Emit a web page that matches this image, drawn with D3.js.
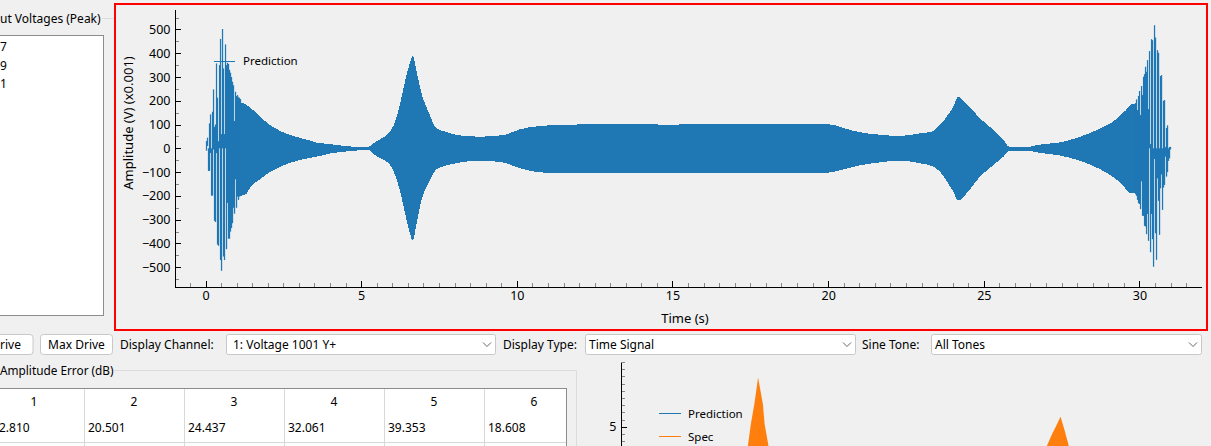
<!DOCTYPE html>
<html>
<head>
<meta charset="utf-8">
<style>
  html, body { margin: 0; padding: 0; background: #f0f0f0; overflow: hidden; }
  svg { display: block; }
  text { font-family: "Noto Sans", sans-serif; font-size: 12px; fill: #000; }
  .axis path, .axis line { shape-rendering: crispEdges; }
  .axis text { font-size: 12.5px; }
  .legend { font-size: 11.5px; }
  .axis-title { font-size: 13px; }
</style>
</head>
<body>
<div id="chart"></div>
<script src="https://cdn.jsdelivr.net/npm/d3@7"></script>
<script>
'use strict';

// main plot: envelope of the signal where it reads as solid
var envTime = [1.11, 1.32, 1.43, 1.75, 2.07, 2.71, 3.36, 3.57, 4.0, 4.54, 5.0, 5.23, 5.39, 5.66, 5.92, 6.09, 6.25, 6.47, 6.58, 6.66, 6.78, 6.94, 7.16, 7.42, 7.69, 8.07, 8.82, 9.57, 10.1, 10.74, 11.39, 12.5, 15, 17, 20, 20.5, 21, 21.6, 22.31, 22.95, 23.33, 23.59, 23.92, 24.03, 24.17, 24.45, 24.88, 25.31, 25.63, 25.82, 26.49, 26.7, 27.45, 28.1, 28.74, 29.28, 29.38, 29.57, 29.7, 29.875];
var envUpper = [195, 182, 172, 133, 98, 56, 33, 24, 18, 9, 6, 7, 21, 42, 70, 112, 189, 315, 364, 389, 322, 231, 154, 84, 71, 56, 49, 56, 80, 94, 98, 101, 100, 102, 102, 85, 68, 58, 52, 63, 70, 98, 154, 178, 217, 186, 126, 77, 35, 7, 7, 14, 25, 49, 84, 126, 140, 161, 182, 189];
var envLower = [-200, -190, -165, -130, -100, -61, -40, -35, -22, -13, -8, -7, -24, -45, -69, -112, -182, -308, -364, -389, -315, -217, -147, -88, -74, -62, -52, -60, -84, -101, -104, -104, -103, -104, -102, -88, -72, -60, -52, -63, -74, -98, -161, -185, -220, -189, -119, -70, -35, -11, -11, -17, -30, -53, -88, -133, -144, -172, -189, -190];

// single oscillations at the start of the sweep
var startTime = [0.032, 0.064, 0.096, 0.128, 0.161, 0.193, 0.225, 0.257, 0.289, 0.321, 0.353, 0.385, 0.418, 0.450, 0.482, 0.514, 0.546, 0.578, 0.610, 0.642, 0.675, 0.707, 0.739, 0.771, 0.803, 0.835, 0.867, 0.899, 0.932, 0.964, 0.996, 1.028, 1.060, 1.092, 1.124];
var startHi = [31, 45, 0, 105, 143, 0, 154, 248, 90, 100, 357, 213, 30, 350, 460, 60, 502, 336, 60, 437, 350, 360, 355, 330, 318, 300, 280, 265, 115, 238, 220, 224, 215, 212, 207];
var startLo = [-10, 10, -95, -95, -20, -199, -199, -5, -305, -310, -20, -405, -410, 0, -470, -515, 0, -455, -470, 0, -424, -230, -380, -380, -350, -335, -315, -250, -275, -130, -250, -203, -217, -203, -200];

// single oscillations at the end of the sweep
var endTime = [29.875, 29.907, 29.939, 29.971, 30.003, 30.035, 30.068, 30.100, 30.132, 30.164, 30.196, 30.228, 30.260, 30.292, 30.324, 30.357, 30.389, 30.421, 30.453, 30.485, 30.517, 30.549, 30.581, 30.614, 30.646, 30.678, 30.710, 30.742, 30.774, 30.806, 30.838, 30.871, 30.903, 30.935, 30.967, 30.999];
var endHi = [189, 206, 161, 220, 241, 140, 262, 224, 301, 312, 343, 322, 371, 165, 409, 18, 459, 455, 0, 518, 466, 0, 413, 402, 0, 304, 308, 0, 200, 203, 5, 86, 97, 0, 6, 6];
var endLo = [-193, -200, -217, -231, -234, -256, -139, -284, -284, -326, -329, -361, -276, -389, 0, -437, -276, -382, -498, -45, -357, -469, -126, -221, -364, -168, -110, -259, -165, -154, -35, -119, -100, -53, -42, -5];

var xTicks = [0, 5, 10, 15, 20, 25, 30];
var xMinor = [-0.5, 0.5, 1, 1.5, 2, 2.5, 3, 3.5, 4, 4.5, 5.5, 6, 6.5, 7, 7.5, 8, 8.5, 9, 9.5, 10.5, 11, 11.5, 12, 12.5, 13, 13.5, 14, 14.5, 15.5, 16, 16.5, 17, 17.5, 18, 18.5, 19, 19.5, 20.5, 21, 21.5, 22, 22.5, 23, 23.5, 24, 24.5, 25.5, 26, 26.5, 27, 27.5, 28, 28.5, 29, 29.5, 30.5, 31, 31.5];
var yTicks = [-500, -400, -300, -200, -100, 0, 100, 200, 300, 400, 500];
var yMinor = [-550, -450, -350, -250, -150, -50, 50, 150, 250, 350, 450, 550];

// lower plot, mostly cut off by the window
var specPeak1Time = [6.25, 6.42, 6.62, 6.83, 7.1, 7.2, 7.42];
var specPeak1 = [3.68, 5.2, 6.6, 8.42, 6.6, 5.2, 3.68];
var specPeak2Time = [23.2, 23.5, 23.7, 23.98, 24.2, 24.45];
var specPeak2 = [3.68, 4.5, 5.0, 5.7, 4.8, 3.68];
var lowerYTicks = [5];
var lowerYMinor = [4, 4.5, 5.5, 6, 6.5, 7, 7.5, 8, 8.5, 9, 9.5];

var tableColumns = ['1', '2', '3', '4', '5', '6'];
var tableValues = ['2.810', '20.501', '24.437', '32.061', '39.353', '18.608'];
var peakRows = ['7', '9', '1'];

var blue = '#1f77b4', orange = '#ff7f0e';

var svg = d3.select('#chart').append('svg')
  .attr('width', 1211)
  .attr('height', 446);

function label(str, x, y, anchor) {
  return svg.append('text')
    .attr('x', x)
    .attr('y', y)
    .attr('text-anchor', anchor || 'start')
    .text(str);
}

function box(x, y, w, h, fill, stroke, rx) {
  return svg.append('rect')
    .attr('x', x).attr('y', y)
    .attr('width', w).attr('height', h)
    .attr('rx', rx || 0)
    .attr('fill', fill)
    .attr('stroke', stroke)
    .attr('shape-rendering', rx ? 'auto' : 'crispEdges');
}

function combo(x, w, str, pad) {
  box(x + 0.5, 334.5, w, 20, '#fff', '#c8c8c8', 2);
  label(str, x + pad, 349);
  var cx = x + w - 8;
  svg.append('path')
    .attr('d', 'M' + (cx - 4) + ',342.5L' + cx + ',346.5L' + (cx + 4) + ',342.5')
    .attr('fill', 'none')
    .attr('stroke', '#666');
}

// --- surrounding window ---
label('ut Voltages (Peak)', 0, 23);
svg.append('line').attr('x1', 102).attr('x2', 114).attr('y1', 18.5).attr('y2', 18.5).attr('stroke', '#dcdcdc');
box(-2, 35.5, 105.5, 280, '#fff', '#8c8c8c');
svg.selectAll('.peak-row').data(peakRows).enter().append('text')
  .attr('class', 'peak-row')
  .attr('x', 0)
  .attr('y', function (d, i) { return 51 + i * 18.5; })
  .text(function (d) { return d; });

box(-10, 334.5, 43, 20, '#fff', '#c8c8c8', 3);
label('rive', 0, 349);
box(40.5, 334.5, 72, 20, '#fff', '#c8c8c8', 3);
label('Max Drive', 76.5, 349, 'middle');
label('Display Channel:', 120, 349);
combo(226, 269, '1: Voltage 1001 Y+', 7);
label('Display Type:', 503, 349);
combo(585, 270, 'Time Signal', 4);
label('Sine Tone:', 862, 349);
combo(931, 270, 'All Tones', 4);

// group box and the table
svg.append('path')
  .attr('d', 'M114.5,370.5H576.5V446')
  .attr('fill', 'none')
  .attr('stroke', '#dcdcdc');
label('Amplitude Error (dB)', 0, 375).style('font-size', '11.8px');
box(-2, 388.5, 568.5, 70, '#fff', '#8c8c8c');

var colX = d3.scaleBand().domain(tableColumns).range([-16, 584]);
svg.selectAll('.col-sep').data(tableColumns.slice(0, 5)).enter().append('line')
  .attr('class', 'col-sep')
  .attr('x1', function (d) { return colX(d) + colX.bandwidth() + 0.5; })
  .attr('x2', function (d) { return colX(d) + colX.bandwidth() + 0.5; })
  .attr('y1', 389)
  .attr('y2', 446)
  .attr('stroke', '#d8d8d8');
svg.append('line').attr('x1', 0).attr('x2', 566).attr('y1', 442.5).attr('y2', 442.5).attr('stroke', '#d8d8d8');
svg.selectAll('.col-head').data(tableColumns).enter().append('text')
  .attr('class', 'col-head')
  .attr('x', function (d) { return colX(d) + colX.bandwidth() / 2; })
  .attr('y', 406)
  .attr('text-anchor', 'middle')
  .text(function (d) { return d; });
svg.selectAll('.col-val').data(tableValues).enter().append('text')
  .attr('class', 'col-val')
  .attr('x', function (d, i) { return i === 0 ? -1 : colX(tableColumns[i]) + 4; })
  .attr('y', 432)
  .text(function (d) { return d; });

// --- main plot ---
box(115, 4, 1092, 326, '#f0f0f0', 'none');

var x = d3.scaleLinear().domain([-1, 32]).range([174.4, 1201.7]);
var y = d3.scaleLinear().domain([-579, 586]).range([286, 9]);

var area = d3.area()
  .curve(d3.curveMonotoneX)
  .x(function (d) { return x(d.t); })
  .y0(function (d) { return y(d.lo); })
  .y1(function (d) { return y(d.hi); });

var envelope = envTime.map(function (t, i) {
  return { t: t, hi: envUpper[i], lo: envLower[i] };
});
svg.append('path')
  .datum(envelope)
  .attr('d', area)
  .attr('fill', blue)
  .attr('shape-rendering', 'crispEdges');

function stems(cls, times, hi, lo) {
  svg.selectAll('.' + cls)
    .data(times)
    .enter()
    .append('line')
    .attr('class', cls)
    .attr('x1', function (d) { return x(d); })
    .attr('x2', function (d) { return x(d); })
    .attr('y1', function (d, i) { return y(hi[i]); })
    .attr('y2', function (d, i) { return y(lo[i]); })
    .attr('stroke', blue)
    .attr('stroke-width', 1.25);
}
stems('start-stem', startTime, startHi, startLo);
stems('end-stem', endTime, endHi, endLo);

// minor ticks first, major axis on top, all pointing into the plot
svg.append('g')
  .attr('class', 'axis minor')
  .attr('transform', 'translate(0,286.5)')
  .call(d3.axisBottom(x).tickValues(xMinor).tickSizeInner(-4).tickSizeOuter(0).tickFormat(''))
  .call(function (g) { g.selectAll('.tick line').attr('stroke', '#888'); });
svg.append('g')
  .attr('class', 'axis')
  .attr('transform', 'translate(0,286.5)')
  .call(d3.axisBottom(x).tickValues(xTicks).tickSizeInner(-6).tickSizeOuter(0).tickPadding(5));

svg.append('g')
  .attr('class', 'axis minor')
  .attr('transform', 'translate(174.5,0)')
  .call(d3.axisLeft(y).tickValues(yMinor).tickSizeInner(-4).tickSizeOuter(0).tickFormat(''))
  .call(function (g) { g.selectAll('.tick line').attr('stroke', '#888'); });
svg.append('g')
  .attr('class', 'axis')
  .attr('transform', 'translate(174.5,0)')
  .call(d3.axisLeft(y).tickValues(yTicks).tickSizeInner(-6).tickSizeOuter(0).tickPadding(4));

label('Time (s)', 685, 323, 'middle').attr('class', 'axis-title');
svg.append('text')
  .attr('class', 'axis-title')
  .attr('transform', 'translate(133,123) rotate(-90)')
  .attr('text-anchor', 'middle')
  .text('Amplitude (V) (x0.001)');

svg.append('line').attr('x1', 214).attr('x2', 235).attr('y1', 61.5).attr('y2', 61.5).attr('stroke', blue);
label('Prediction', 243, 65).attr('class', 'legend');

// --- lower plot ---
var x2 = d3.scaleLinear().domain([-1, 32]).range([620, 1202]);
var y2 = d3.scaleLinear().domain([0, 9.5]).range([499, 362]);

var area2 = d3.area()
  .x(function (d) { return x2(d.t); })
  .y0(y2(0))
  .y1(function (d) { return y2(d.v); });

[[specPeak1Time, specPeak1], [specPeak2Time, specPeak2]].forEach(function (peak) {
  svg.append('path')
    .datum(peak[0].map(function (t, i) { return { t: t, v: peak[1][i] }; }))
    .attr('d', area2)
    .attr('fill', orange);
});

svg.append('g')
  .attr('class', 'axis minor')
  .attr('transform', 'translate(620.5,0)')
  .call(d3.axisLeft(y2).tickValues(lowerYMinor).tickSizeInner(-4).tickSizeOuter(0).tickFormat(''))
  .call(function (g) { g.selectAll('.tick line').attr('stroke', '#888'); });
svg.append('g')
  .attr('class', 'axis')
  .attr('transform', 'translate(620.5,0)')
  .call(d3.axisLeft(y2).tickValues(lowerYTicks).tickSizeInner(-6).tickSizeOuter(0).tickPadding(4));

svg.append('line').attr('x1', 659).attr('x2', 681).attr('y1', 413.5).attr('y2', 413.5).attr('stroke', blue);
label('Prediction', 688, 418).attr('class', 'legend');
svg.append('line').attr('x1', 659).attr('x2', 681).attr('y1', 436.5).attr('y2', 436.5).attr('stroke', orange);
label('Spec', 688, 441).attr('class', 'legend');

// red frame over the plot area
box(115, 4, 1092, 326, 'none', '#ff0000').attr('stroke-width', 2);
</script>
</body>
</html>
